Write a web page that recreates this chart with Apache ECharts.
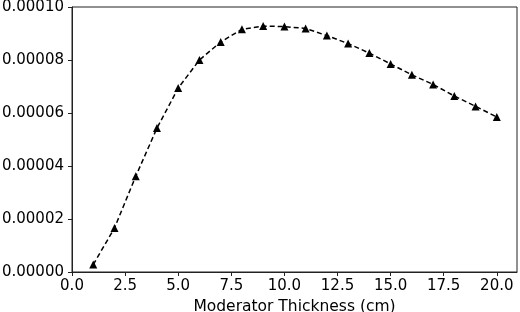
<!DOCTYPE html>
<html>
<head>
<meta charset="utf-8">
<script src="https://cdn.jsdelivr.net/npm/echarts@6/dist/echarts.min.js"></script>
<style>
  html, body { margin: 0; padding: 0; background: #fff; }
  #chart { width: 520px; height: 312px; }
</style>
</head>
<body>
<div id="chart"></div>
<script>
// moderator thickness (cm) vs. yield
var thickness = [1, 2, 3, 4, 5, 6, 7, 8, 9, 10, 11, 12, 13, 14, 15, 16, 17, 18, 19, 20];
var yieldVals = [0.0000028, 0.0000166, 0.0000361, 0.0000543, 0.0000694, 0.0000800,
                 0.0000868, 0.0000916, 0.0000928, 0.0000926, 0.0000919, 0.0000892,
                 0.0000862, 0.0000826, 0.0000785, 0.0000744, 0.0000708, 0.0000664,
                 0.0000625, 0.0000585];
var xTitle = 'Moderator Thickness (cm)';

var points = thickness.map(function (x, i) { return [x, yieldVals[i]]; });

var font = 'DejaVu Sans';

var option = {
    animation: false,
    backgroundColor: '#fff',
    grid: {
        left: 72, right: 3, top: 7, bottom: 40,
        outerBoundsMode: 'none',
        containLabel: false,
        show: true, borderColor: '#222', borderWidth: 1
    },
    xAxis: {
        type: 'value',
        min: 0, max: 20.95, interval: 2.5,
        name: xTitle,
        nameLocation: 'middle',
        nameGap: 23,
        nameTextStyle: { fontFamily: font, fontSize: 15.5, color: '#000' },
        axisLine: { show: true, onZero: false, lineStyle: { color: '#222' } },
        axisTick: { show: true, length: 4, lineStyle: { color: '#222' } },
        splitLine: { show: false },
        axisLabel: {
            fontFamily: font, fontSize: 15, color: '#000', margin: 7,
            showMaxLabel: false,
            formatter: function (v) { return v.toFixed(1); }
        }
    },
    yAxis: {
        type: 'value',
        min: 0, max: 0.0001, interval: 0.00002,
        axisLine: { show: true, lineStyle: { color: '#222' } },
        axisTick: { show: true, length: 4, lineStyle: { color: '#222' } },
        splitLine: { show: false },
        axisLabel: {
            fontFamily: font, fontSize: 15, color: '#000', margin: 8,
            formatter: function (v) { return v.toFixed(5); }
        }
    },
    series: [{
        type: 'line',
        data: points,
        symbol: 'triangle',
        symbolSize: 8,
        itemStyle: { color: '#000' },
        lineStyle: { color: '#000', width: 1.5, type: [5, 3] }
    }]
};

var chart = echarts.init(document.getElementById('chart'));
chart.setOption(option);
</script>
</body>
</html>
